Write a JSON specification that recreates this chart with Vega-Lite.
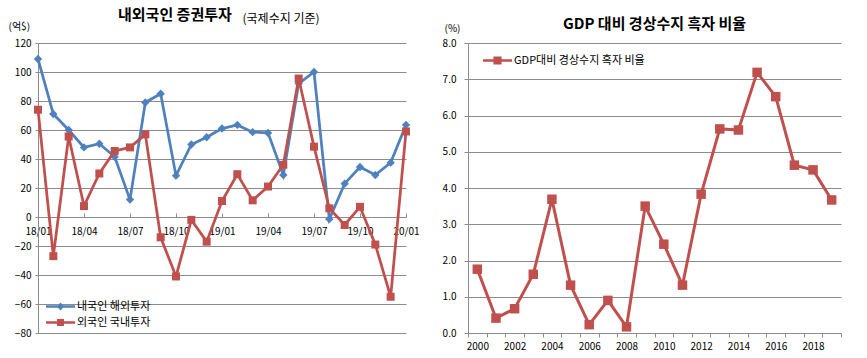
{
  "$schema": "https://vega.github.io/schema/vega-lite/v6.json",
  "background": "white",
  "padding": {"left": 8, "top": 8, "right": 0, "bottom": 0},
  "config": {
    "font": "Noto Sans CJK KR",
    "view": {"stroke": null},
    "axis": {"labelFont": "Noto Sans CJK KR", "labelFontSize": 10, "labelColor": "#000", "domainColor": "#8c8c8c", "tickColor": "#8c8c8c", "gridColor": "#8c8c8c", "titleFont": "Noto Sans CJK KR", "titleFontWeight": "normal", "titleColor": "#000"},
    "legend": {"labelFont": "Noto Sans CJK KR", "labelFontSize": 11, "labelColor": "#000"},
    "title": {"font": "Noto Sans CJK KR", "color": "#000", "fontWeight": "bold", "fontSize": 15}
  },
  "datasets": {
    "sec": [
      {"m": "18/01", "s": "내국인 해외투자", "v": 109}, {"m": "18/02", "s": "내국인 해외투자", "v": 71}, {"m": "18/03", "s": "내국인 해외투자", "v": 60}, {"m": "18/04", "s": "내국인 해외투자", "v": 48}, {"m": "18/05", "s": "내국인 해외투자", "v": 50.5}, {"m": "18/06", "s": "내국인 해외투자", "v": 41.5}, {"m": "18/07", "s": "내국인 해외투자", "v": 12}, {"m": "18/08", "s": "내국인 해외투자", "v": 79}, {"m": "18/09", "s": "내국인 해외투자", "v": 85}, {"m": "18/10", "s": "내국인 해외투자", "v": 28.5}, {"m": "18/11", "s": "내국인 해외투자", "v": 50}, {"m": "18/12", "s": "내국인 해외투자", "v": 55}, {"m": "19/01", "s": "내국인 해외투자", "v": 61}, {"m": "19/02", "s": "내국인 해외투자", "v": 63.5}, {"m": "19/03", "s": "내국인 해외투자", "v": 58.5}, {"m": "19/04", "s": "내국인 해외투자", "v": 58}, {"m": "19/05", "s": "내국인 해외투자", "v": 29}, {"m": "19/06", "s": "내국인 해외투자", "v": 92}, {"m": "19/07", "s": "내국인 해외투자", "v": 100}, {"m": "19/08", "s": "내국인 해외투자", "v": -1.5}, {"m": "19/09", "s": "내국인 해외투자", "v": 23}, {"m": "19/10", "s": "내국인 해외투자", "v": 34.5}, {"m": "19/11", "s": "내국인 해외투자", "v": 29}, {"m": "19/12", "s": "내국인 해외투자", "v": 37.5}, {"m": "20/01", "s": "내국인 해외투자", "v": 63.5},
      {"m": "18/01", "s": "외국인 국내투자", "v": 74}, {"m": "18/02", "s": "외국인 국내투자", "v": -27}, {"m": "18/03", "s": "외국인 국내투자", "v": 55.5}, {"m": "18/04", "s": "외국인 국내투자", "v": 7.5}, {"m": "18/05", "s": "외국인 국내투자", "v": 30}, {"m": "18/06", "s": "외국인 국내투자", "v": 45.5}, {"m": "18/07", "s": "외국인 국내투자", "v": 48}, {"m": "18/08", "s": "외국인 국내투자", "v": 57}, {"m": "18/09", "s": "외국인 국내투자", "v": -14}, {"m": "18/10", "s": "외국인 국내투자", "v": -41}, {"m": "18/11", "s": "외국인 국내투자", "v": -2}, {"m": "18/12", "s": "외국인 국내투자", "v": -17}, {"m": "19/01", "s": "외국인 국내투자", "v": 11}, {"m": "19/02", "s": "외국인 국내투자", "v": 29.5}, {"m": "19/03", "s": "외국인 국내투자", "v": 11.5}, {"m": "19/04", "s": "외국인 국내투자", "v": 21}, {"m": "19/05", "s": "외국인 국내투자", "v": 36}, {"m": "19/06", "s": "외국인 국내투자", "v": 95.5}, {"m": "19/07", "s": "외국인 국내투자", "v": 48.5}, {"m": "19/08", "s": "외국인 국내투자", "v": 6}, {"m": "19/09", "s": "외국인 국내투자", "v": -5.5}, {"m": "19/10", "s": "외국인 국내투자", "v": 7}, {"m": "19/11", "s": "외국인 국내투자", "v": -19}, {"m": "19/12", "s": "외국인 국내투자", "v": -55}, {"m": "20/01", "s": "외국인 국내투자", "v": 59}
    ],
    "gdp": [
      {"year": "2000", "s": "GDP대비 경상수지 흑자 비율", "v": 1.76}, {"year": "2001", "s": "GDP대비 경상수지 흑자 비율", "v": 0.41}, {"year": "2002", "s": "GDP대비 경상수지 흑자 비율", "v": 0.67}, {"year": "2003", "s": "GDP대비 경상수지 흑자 비율", "v": 1.62}, {"year": "2004", "s": "GDP대비 경상수지 흑자 비율", "v": 3.69}, {"year": "2005", "s": "GDP대비 경상수지 흑자 비율", "v": 1.32}, {"year": "2006", "s": "GDP대비 경상수지 흑자 비율", "v": 0.23}, {"year": "2007", "s": "GDP대비 경상수지 흑자 비율", "v": 0.9}, {"year": "2008", "s": "GDP대비 경상수지 흑자 비율", "v": 0.17}, {"year": "2009", "s": "GDP대비 경상수지 흑자 비율", "v": 3.5}, {"year": "2010", "s": "GDP대비 경상수지 흑자 비율", "v": 2.45}, {"year": "2011", "s": "GDP대비 경상수지 흑자 비율", "v": 1.32}, {"year": "2012", "s": "GDP대비 경상수지 흑자 비율", "v": 3.83}, {"year": "2013", "s": "GDP대비 경상수지 흑자 비율", "v": 5.63}, {"year": "2014", "s": "GDP대비 경상수지 흑자 비율", "v": 5.6}, {"year": "2015", "s": "GDP대비 경상수지 흑자 비율", "v": 7.19}, {"year": "2016", "s": "GDP대비 경상수지 흑자 비율", "v": 6.52}, {"year": "2017", "s": "GDP대비 경상수지 흑자 비율", "v": 4.63}, {"year": "2018", "s": "GDP대비 경상수지 흑자 비율", "v": 4.5}, {"year": "2019", "s": "GDP대비 경상수지 흑자 비율", "v": 3.67}
    ]
  },
  "bounds": "flush",
  "spacing": 62,
  "resolve": {"scale": {"x": "independent", "y": "independent", "color": "independent"}, "legend": {"color": "independent"}},
  "hconcat": [
    {
      "width": 368,
      "height": 290,
      "data": {"name": "sec"},
      "title": {"text": "내외국인 증권투자", "anchor": "start", "frame": "group", "dx": 80, "dy": 15},
      "encoding": {
        "x": {
          "field": "m", "type": "ordinal", "sort": null,
          "scale": {"type": "point", "padding": 0},
          "axis": {"values": ["18/01", "18/04", "18/07", "18/10", "19/01", "19/04", "19/07", "19/10", "20/01"], "labelAngle": 0, "offset": -116, "tickSize": -4, "labelPadding": 13, "grid": false, "title": "(국제수지 기준)", "titleFontSize": 12, "titleX": 204, "titleY": -199, "titleAlign": "left", "titleBaseline": "middle"}
        },
        "y": {
          "field": "v", "type": "quantitative",
          "scale": {"domain": [-80, 120], "nice": false, "zero": false},
          "axis": {"values": [-80, -60, -40, -20, 0, 20, 40, 60, 80, 100, 120], "grid": true, "tickSize": 3, "labelPadding": 4, "title": "(억$)", "titleFontSize": 10, "titleAngle": 0, "titleX": -30, "titleY": -17, "titleAlign": "left", "titleBaseline": "middle"}
        }
      },
      "resolve": {"scale": {"color": "independent"}, "legend": {"color": "independent"}},
      "layer": [
        {
          "transform": [{"filter": "datum.s == '내국인 해외투자'"}],
          "encoding": {
            "color": {
              "field": "s", "type": "nominal",
              "scale": {"range": ["#4F81BD"]},
              "legend": {"title": null, "orient": "none", "legendX": 8, "legendY": 249, "symbolSize": 841, "labelOffset": 2,
                "symbolType": "M-1,-0.09H1V0.09H-1Z M0,-0.28L0.26,0L0,0.28L-0.26,0Z",
                "symbolFillColor": "#4F81BD", "symbolStrokeColor": "#4F81BD", "symbolStrokeWidth": 0}
            }
          },
          "layer": [
            {"mark": {"type": "line", "strokeWidth": 2.75}},
            {"mark": {"type": "point", "shape": "diamond", "filled": true, "opacity": 1, "size": 70}}
          ]
        },
        {
          "transform": [{"filter": "datum.s == '외국인 국내투자'"}],
          "encoding": {
            "color": {
              "field": "s", "type": "nominal",
              "scale": {"range": ["#C0504D"]},
              "legend": {"title": null, "orient": "none", "legendX": 8, "legendY": 265, "symbolSize": 841, "labelOffset": 2,
                "symbolType": "M-1,-0.09H1V0.09H-1Z M-0.24,-0.24H0.24V0.24H-0.24Z",
                "symbolFillColor": "#C0504D", "symbolStrokeColor": "#C0504D", "symbolStrokeWidth": 0}
            }
          },
          "layer": [
            {"mark": {"type": "line", "strokeWidth": 2.75}},
            {"mark": {"type": "square", "opacity": 1, "size": 64}}
          ]
        }
      ]
    },
    {
      "width": 373,
      "height": 290,
      "data": {"name": "gdp"},
      "title": {"text": "GDP 대비 경상수지 흑자 비율", "anchor": "middle", "dy": 13},
      "encoding": {
        "x": {
          "field": "year", "type": "ordinal",
          "scale": {"type": "band", "paddingInner": 0, "paddingOuter": 0},
          "axis": {"labelAngle": 0, "tickBand": "extent", "labelExpr": "toNumber(datum.value) % 2 == 0 ? datum.label : ''", "tickSize": 4, "labelPadding": 4, "title": null, "grid": false}
        },
        "y": {
          "field": "v", "type": "quantitative",
          "scale": {"domain": [0, 8], "nice": false},
          "axis": {"values": [0, 1, 2, 3, 4, 5, 6, 7, 8], "format": ".1f", "grid": true, "tickSize": 4, "labelPadding": 8, "title": "(%)", "titleFontSize": 10, "titleAngle": 0, "titleX": -24, "titleY": -15, "titleAlign": "left", "titleBaseline": "middle"}
        },
        "color": {
          "field": "s", "type": "nominal",
          "scale": {"range": ["#C0504D"]},
          "legend": {
            "title": null, "orient": "none", "legendX": 15, "legendY": 3, "symbolSize": 841, "labelOffset": 2,
            "symbolType": "M-1,-0.09H1V0.09H-1Z M-0.28,-0.28H0.28V0.28H-0.28Z",
            "symbolFillColor": "#C0504D", "symbolStrokeColor": "#C0504D", "symbolStrokeWidth": 0
          }
        }
      },
      "layer": [
        {"mark": {"type": "line", "strokeWidth": 3}},
        {"mark": {"type": "square", "size": 90, "opacity": 1}}
      ]
    }
  ]
}
